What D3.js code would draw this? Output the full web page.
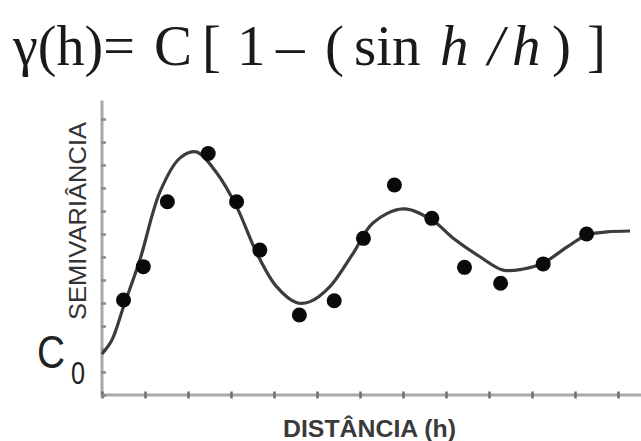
<!DOCTYPE html>
<html>
<head>
<meta charset="utf-8">
<script src="https://cdn.jsdelivr.net/npm/d3@7/dist/d3.min.js"></script>
<style>
  html, body { margin: 0; padding: 0; background: #fff; }
  svg { display: block; }
</style>
</head>
<body>
<svg id="chart" width="641" height="441"></svg>
<script>
// Experimental semivariogram (points) and fitted hole-effect curve
const obsDistance = [0.50, 0.96, 1.52, 2.47, 3.13, 3.67, 4.59, 5.40, 6.08, 6.80, 7.67, 8.43, 9.27, 10.26, 11.27];
const obsGamma    = [4.13, 5.58, 8.40, 10.50, 8.40, 6.30, 3.48, 4.10, 6.81, 9.13, 7.68, 5.55, 4.86, 5.70, 7.00];

const fitDistance = [0, 0.23, 0.50, 0.88, 1.35, 1.81, 2.19, 2.67, 3.13, 3.60, 4.06, 4.53, 4.84, 5.30, 5.84, 6.30, 7.00, 7.67, 8.16, 8.79, 9.33, 9.80, 10.26, 10.81, 11.28, 11.74, 12.28];
const fitGamma    = [1.78, 2.39, 3.84, 5.87, 8.84, 10.30, 10.57, 9.65, 8.19, 6.17, 4.71, 4.01, 4.06, 4.71, 6.16, 7.48, 8.09, 7.61, 6.83, 6.01, 5.43, 5.48, 5.74, 6.43, 6.96, 7.09, 7.13];

const xTicks = d3.range(0, 13);
const yTicks = d3.range(0, 13);

const formulaParts = ["γ(h)=", "C", "[", "1", "–", "(", "sin", "h", "/", "h", ")", "]"];
const formulaItalic = [false, false, false, false, false, false, false, true, true, true, false, false];
const formulaX = [13, 154, 202, 237, 276, 325, 354, 440, 488, 512, 552, 587];
const formulaLen = [122, null, null, null, null, null, null, null, null, null, null, null];

const xLabel = "DISTÂNCIA (h)";
const yLabel = "SEMIVARIÂNCIA";

const svg = d3.select("#chart");

const x = d3.scaleLinear().domain([0, 12.5]).range([102, 639.5]);
const y = d3.scaleLinear().domain([0, 12.8]).range([395, 100.6]);

// formula heading
const title = svg.append("g")
  .attr("font-family", "'Liberation Serif', 'Times New Roman', serif")
  .attr("font-size", 57)
  .attr("fill", "#1a1a1a");
title.selectAll("text")
  .data(formulaParts)
  .join("text")
  .attr("x", (d, i) => formulaX[i])
  .attr("y", 65)
  .attr("font-style", (d, i) => formulaItalic[i] ? "italic" : "normal")
  .each(function (d, i) {
    if (formulaLen[i]) {
      d3.select(this).attr("textLength", formulaLen[i]).attr("lengthAdjust", "spacingAndGlyphs");
    }
  })
  .text(d => d);

// axes
svg.append("line")
  .attr("x1", x(0)).attr("x2", 641)
  .attr("y1", y(0)).attr("y2", y(0))
  .attr("stroke", "#a8a8a8").attr("stroke-width", 3);
svg.append("line")
  .attr("x1", x(0)).attr("x2", x(0))
  .attr("y1", y(0) + 1.5).attr("y2", y(12.8))
  .attr("stroke", "#a8a8a8").attr("stroke-width", 3);

const xAxis = svg.append("g")
  .attr("transform", `translate(0,${y(0) - 3.5})`)
  .call(d3.axisBottom(x).tickValues(xTicks).tickSize(7).tickFormat(""));
xAxis.select(".domain").remove();
xAxis.selectAll(".tick line").attr("stroke", "#6e6e6e").attr("stroke-width", 2.5);

const yAxis = svg.append("g")
  .attr("transform", `translate(${x(0) - 1},0)`)
  .call(d3.axisRight(y).tickValues(yTicks).tickSize(5).tickFormat(""));
yAxis.select(".domain").remove();
yAxis.selectAll(".tick line").attr("stroke", "#8a8a8a").attr("stroke-width", 2.5);

// axis titles
svg.append("text")
  .attr("x", 283).attr("y", 437)
  .attr("font-family", "'Liberation Sans', Arial, sans-serif")
  .attr("font-size", 23)
  .attr("font-weight", 600)
  .attr("fill", "#3a3a3a")
  .attr("textLength", 173).attr("lengthAdjust", "spacingAndGlyphs")
  .text(xLabel);

svg.append("text")
  .attr("transform", "translate(86,320) rotate(-90)")
  .attr("font-family", "'Liberation Sans', Arial, sans-serif")
  .attr("font-size", 23)
  .attr("fill", "#333")
  .attr("textLength", 198).attr("lengthAdjust", "spacingAndGlyphs")
  .text(yLabel);

// nugget label C0
const nug = svg.append("text")
  .attr("font-family", "'Liberation Sans', Arial, sans-serif")
  .attr("fill", "#222");
nug.append("tspan").attr("x", 37).attr("y", 368)
  .attr("font-size", 46)
  .attr("textLength", 28).attr("lengthAdjust", "spacingAndGlyphs")
  .text("C");
nug.append("tspan").attr("x", 71).attr("y", 384)
  .attr("font-size", 32)
  .attr("textLength", 14).attr("lengthAdjust", "spacingAndGlyphs")
  .text("0");

// fitted model curve
const line = d3.line()
  .x((d, i) => x(fitDistance[i]))
  .y((d, i) => y(fitGamma[i]))
  .curve(d3.curveCatmullRom.alpha(0.5));
svg.append("path")
  .datum(fitGamma)
  .attr("d", line)
  .attr("fill", "none")
  .attr("stroke", "#3c3c3c")
  .attr("stroke-width", 3.2)
  .attr("stroke-linejoin", "round");

// experimental points
svg.append("g")
  .selectAll("circle")
  .data(obsGamma)
  .join("circle")
  .attr("cx", (d, i) => x(obsDistance[i]))
  .attr("cy", d => y(d))
  .attr("r", 7.5)
  .attr("fill", "#0a0a0a");
</script>
</body>
</html>
